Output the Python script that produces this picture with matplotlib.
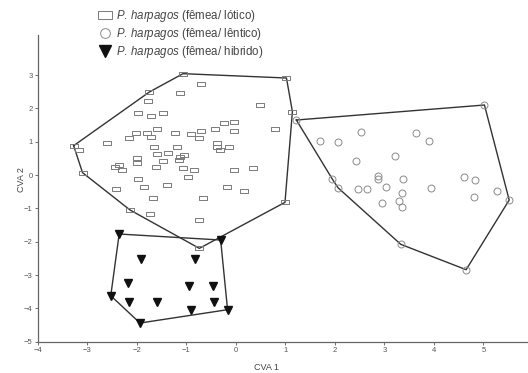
import matplotlib

matplotlib.use("Agg")

import matplotlib.pyplot as plt
import numpy as np
from matplotlib.lines import Line2D
from matplotlib.path import Path

plt.rcParams["font.family"] = ["Liberation Sans", "DejaVu Sans"]
plt.rcParams["mathtext.fontset"] = "custom"
plt.rcParams["mathtext.rm"] = "Liberation Sans"
plt.rcParams["mathtext.it"] = "Liberation Sans:italic"

# P. harpagos (fêmea/ lótico)
lotico_x = [-3.28, -3.18, -3.10, -2.61, -2.42, -2.44, -2.36, -2.30, -2.17, -2.14,
            -2.02, -2.00, -2.00, -1.98, -1.97, -1.85, -1.80, -1.75, -1.77, -1.72,
            -1.72, -1.73, -1.68, -1.65, -1.61, -1.60, -1.59, -1.48, -1.48, -1.40,
            -1.38, -1.23, -1.20, -1.16, -1.14, -1.13, -1.07, -1.07, -1.05, -0.96,
            -0.91, -0.84, -0.74, -0.71, -0.74, -0.71, -0.66, -0.42, -0.39, -0.39,
            -0.32, -0.24, -0.18, -0.15, -0.05, -0.03, -0.03, 0.17, 0.35, 0.48,
            0.79, 1.02, 1.14, 0.99, -0.74]
lotico_y = [0.88, 0.75, 0.07, 0.97, -0.43, 0.23, 0.30, 0.15, 1.10, -1.05,
            1.27, 0.50, 0.37, -0.13, 1.85, -0.35, 1.27, 2.49, 2.22, 1.77,
            1.13, -1.17, -0.68, 0.85, 0.25, 0.63, 1.37, 1.85, 0.42, -0.30,
            0.67, 1.25, 0.85, 0.45, 0.55, 2.45, 3.04, 0.22, 0.60, -0.07,
            1.23, 0.15, 1.10, 1.33, -1.35, 2.72, -0.68, 1.37, 0.97, 0.83,
            0.75, 1.55, -0.37, 0.83, 0.15, 1.60, 1.33, -0.48, 0.22, 2.10,
            1.38, 2.91, 1.90, -0.82, -2.20]

# P. harpagos (fêmea/ lêntico)
lentico_x = [1.22, 1.69, 2.06, 2.53, 2.42, 1.95, 2.06, 2.47, 2.65, 2.87,
             2.87, 3.04, 2.96, 3.22, 3.37, 3.36, 3.29, 3.35, 3.33, 3.64,
             3.89, 3.95, 4.60, 4.83, 4.80, 5.28, 5.52, 5.02, 4.65]
lentico_y = [1.65, 1.02, 1.00, 1.30, 0.42, -0.13, -0.38, -0.43, -0.43, -0.02,
             -0.12, -0.35, -0.85, 0.58, -0.13, -0.53, -0.78, -0.95, -2.08, 1.27,
             1.03, -0.40, -0.07, -0.15, -0.67, -0.47, -0.75, 2.10, -2.84]

# P. harpagos (fêmea/ híbrido)
hibrido_x = [-2.36, -0.31, -1.92, -0.83, -2.19, -0.95, -0.46, -2.53, -2.16, -1.59,
             -0.44, -0.91, -0.17, -1.94]
hibrido_y = [-1.77, -1.95, -2.52, -2.52, -3.24, -3.34, -3.34, -3.62, -3.82, -3.82,
             -3.82, -4.04, -4.04, -4.44]

legend_labels = [r"$\mathit{P.\,harpagos}$ (fêmea/ lótico)",
                 r"$\mathit{P.\,harpagos}$ (fêmea/ lêntico)",
                 r"$\mathit{P.\,harpagos}$ (fêmea/ hibrido)"]


def hull(xs, ys):
    pts = sorted(set(zip(xs, ys)))

    def cross(o, a, b):
        return (a[0] - o[0]) * (b[1] - o[1]) - (a[1] - o[1]) * (b[0] - o[0])

    lower, upper = [], []
    for p in pts:
        while len(lower) >= 2 and cross(lower[-2], lower[-1], p) <= 0:
            lower.pop()
        lower.append(p)
    for p in reversed(pts):
        while len(upper) >= 2 and cross(upper[-2], upper[-1], p) <= 0:
            upper.pop()
        upper.append(p)
    h = lower[:-1] + upper[:-1]
    h.append(h[0])
    return np.array(h)


rect = Path([(-1, -0.55), (1, -0.55), (1, 0.55), (-1, 0.55), (-1, -0.55)],
            [Path.MOVETO, Path.LINETO, Path.LINETO, Path.LINETO, Path.CLOSEPOLY])

fig = plt.figure(figsize=(5.28, 3.73), dpi=100)
ax = fig.add_axes([38 / 528, 31.3 / 373, 1 - 38 / 528, (341.7 - 35) / 373])

line_col = "#333333"
for xs, ys in [(lotico_x, lotico_y), (lentico_x, lentico_y), (hibrido_x, hibrido_y)]:
    h = hull(xs, ys)
    ax.plot(h[:, 0], h[:, 1], color=line_col, lw=1.0, zorder=2)

ax.plot(lotico_x, lotico_y, ls="none", marker=rect, ms=6, mfc="none",
        mec="#7a7a7a", mew=0.7, zorder=3)
ax.plot(lentico_x, lentico_y, ls="none", marker="o", ms=5, mfc="none",
        mec="#8a8a8a", mew=0.7, zorder=3)
ax.plot(hibrido_x, hibrido_y, ls="none", marker="v", ms=6, color="#111111", zorder=3)

ax.set_xlim(-4, 5.9)
ax.set_ylim(-5, 4.2)
ax.set_xticks(range(-4, 6))
ax.set_yticks(range(-5, 4))
for s in ["top", "right"]:
    ax.spines[s].set_visible(False)
for s in ["left", "bottom"]:
    ax.spines[s].set_color("#666666")
    ax.spines[s].set_linewidth(0.9)
ax.tick_params(labelsize=5.5, colors="#555555", length=2, width=0.6, pad=2)

ax.set_xlabel("CVA 1", fontsize=6.5, color="#444444")
ax.xaxis.set_label_coords((266 - 38) / 490, -0.07)
ax.set_ylabel("CVA 2", fontsize=6.5, color="#444444")
ax.yaxis.set_label_coords(-(38 - 26) / 490, (341.7 - 180) / 306.7)

handles = [
    Line2D([], [], ls="none", marker=rect, ms=10, mfc="none", mec="#7a7a7a", mew=0.7),
    Line2D([], [], ls="none", marker="o", ms=7, mfc="none", mec="#8a8a8a", mew=0.7),
    Line2D([], [], ls="none", marker="v", ms=8, color="#111111"),
]
fig.legend(handles, legend_labels, loc="upper left",
           bbox_to_anchor=(93 / 528, 1 - 2 / 373), frameon=False,
           fontsize=8.3, labelcolor="#444444", handlelength=1.0,
           handletextpad=0.5, labelspacing=0.2, borderpad=0)

fig.savefig("out.png", dpi=100)
